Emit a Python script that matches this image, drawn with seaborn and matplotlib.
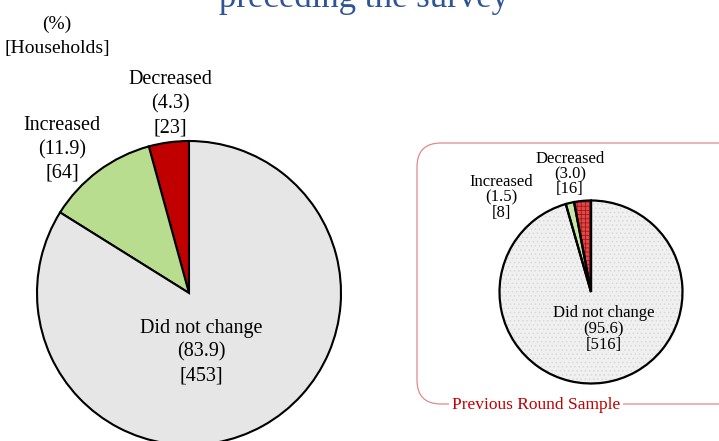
import matplotlib
matplotlib.use("Agg")
import matplotlib.pyplot as plt
import seaborn as sns
from matplotlib.patches import FancyBboxPatch

# ---------------- data ----------------
categories = ["Decreased", "Increased", "Did not change"]
current_pct = [4.3, 11.9, 83.9]
current_hh = [23, 64, 453]
previous_pct = [3.0, 1.5, 95.6]
previous_hh = [16, 8, 516]
title_text = "preceding the survey"
unit_lines = ["(%)", "[Households]"]
inset_caption = "Previous Round Sample"

sns.set_theme(style="white")
plt.rcParams["font.family"] = ["Liberation Serif", "DejaVu Serif"]

W, H = 719, 441
fig = plt.figure(figsize=(W / 100, H / 100), dpi=100)
ax = fig.add_axes([0, 0, 1, 1])


def py(y):
    return H - y


# ---------------- main pie ----------------
main_colors = ["#C00000", "#B9DD8F", "#E6E6E6"]
ax.pie(current_hh, colors=main_colors, startangle=90, counterclock=True,
       center=(189, py(293)), radius=152, frame=True,
       wedgeprops=dict(edgecolor="black", linewidth=1.5))

# ---------------- previous-round pie ----------------
prev_colors = ["#E2474A", "#C9E6A6", "#F0F0F0"]
ax.pie(previous_hh, colors=prev_colors, startangle=90, counterclock=True,
       center=(591, py(292)), radius=91.5, frame=True,
       wedgeprops=dict(linewidth=0))
plt.rcParams["hatch.linewidth"] = 0.6
hatch_cols = ["#A01818", "#C9E6A6", "#D8D8D8"]
hatches = ["++++", "", "...."]
wedges, _ = ax.pie(previous_hh, colors=["none"] * 3, startangle=90, counterclock=True,
                   center=(591, py(292)), radius=91.5, frame=True,
                   wedgeprops=dict(linewidth=0))
for w, hc, ht in zip(wedges, hatch_cols, hatches):
    w.set_facecolor("none")
    w.set_edgecolor(hc)
    w.set_hatch(ht)
    w.set_linewidth(0)
ax.pie(previous_hh, colors=["none"] * 3, startangle=90, counterclock=True,
       center=(591, py(292)), radius=91.5, frame=True,
       wedgeprops=dict(edgecolor="black", linewidth=1.6, facecolor="none"))

ax.set_xlim(0, W)
ax.set_ylim(0, H)
ax.set_aspect("auto")
ax.axis("off")


def label(x, ys, lines, size, color="#000000"):
    for y, t in zip(ys, lines):
        ax.text(x, py(y), t, ha="center", va="center", fontsize=size, color=color)


def three(cat, pct, hh):
    return [cat, f"({pct:.1f})", f"[{hh}]"]


# main labels
label(170, [80, 104, 128], three(categories[0], current_pct[0], current_hh[0]), 14.5)
label(62, [126, 150, 173], three(categories[1], current_pct[1], current_hh[1]), 14.5)
label(201, [328, 352, 376], three(categories[2], current_pct[2], current_hh[2]), 14.5)

# previous labels
label(570, [159, 174, 189], three(categories[0], previous_pct[0], previous_hh[0]), 12)
label(501, [182, 197, 213], three(categories[1], previous_pct[1], previous_hh[1]), 12)
label(604, [313, 329, 345], three(categories[2], previous_pct[2], previous_hh[2]), 12)

# unit note
label(57, [24, 48], unit_lines, 14)

# title (cut at top)
ax.text(364, py(7), title_text, ha="center", va="baseline", fontsize=25,
        color="#2E5597")

# inset frame
box = FancyBboxPatch((417, py(404)), 330, 404 - 143,
                     boxstyle="round,pad=0,rounding_size=24",
                     facecolor="none", edgecolor="#E08A8A", linewidth=0.9)
ax.add_patch(box)
ax.text(536, py(405), inset_caption, ha="center", va="center", fontsize=12.5,
        color="#C00000", bbox=dict(facecolor="white", edgecolor="none", pad=2))

fig.savefig("out.png", dpi=100)
